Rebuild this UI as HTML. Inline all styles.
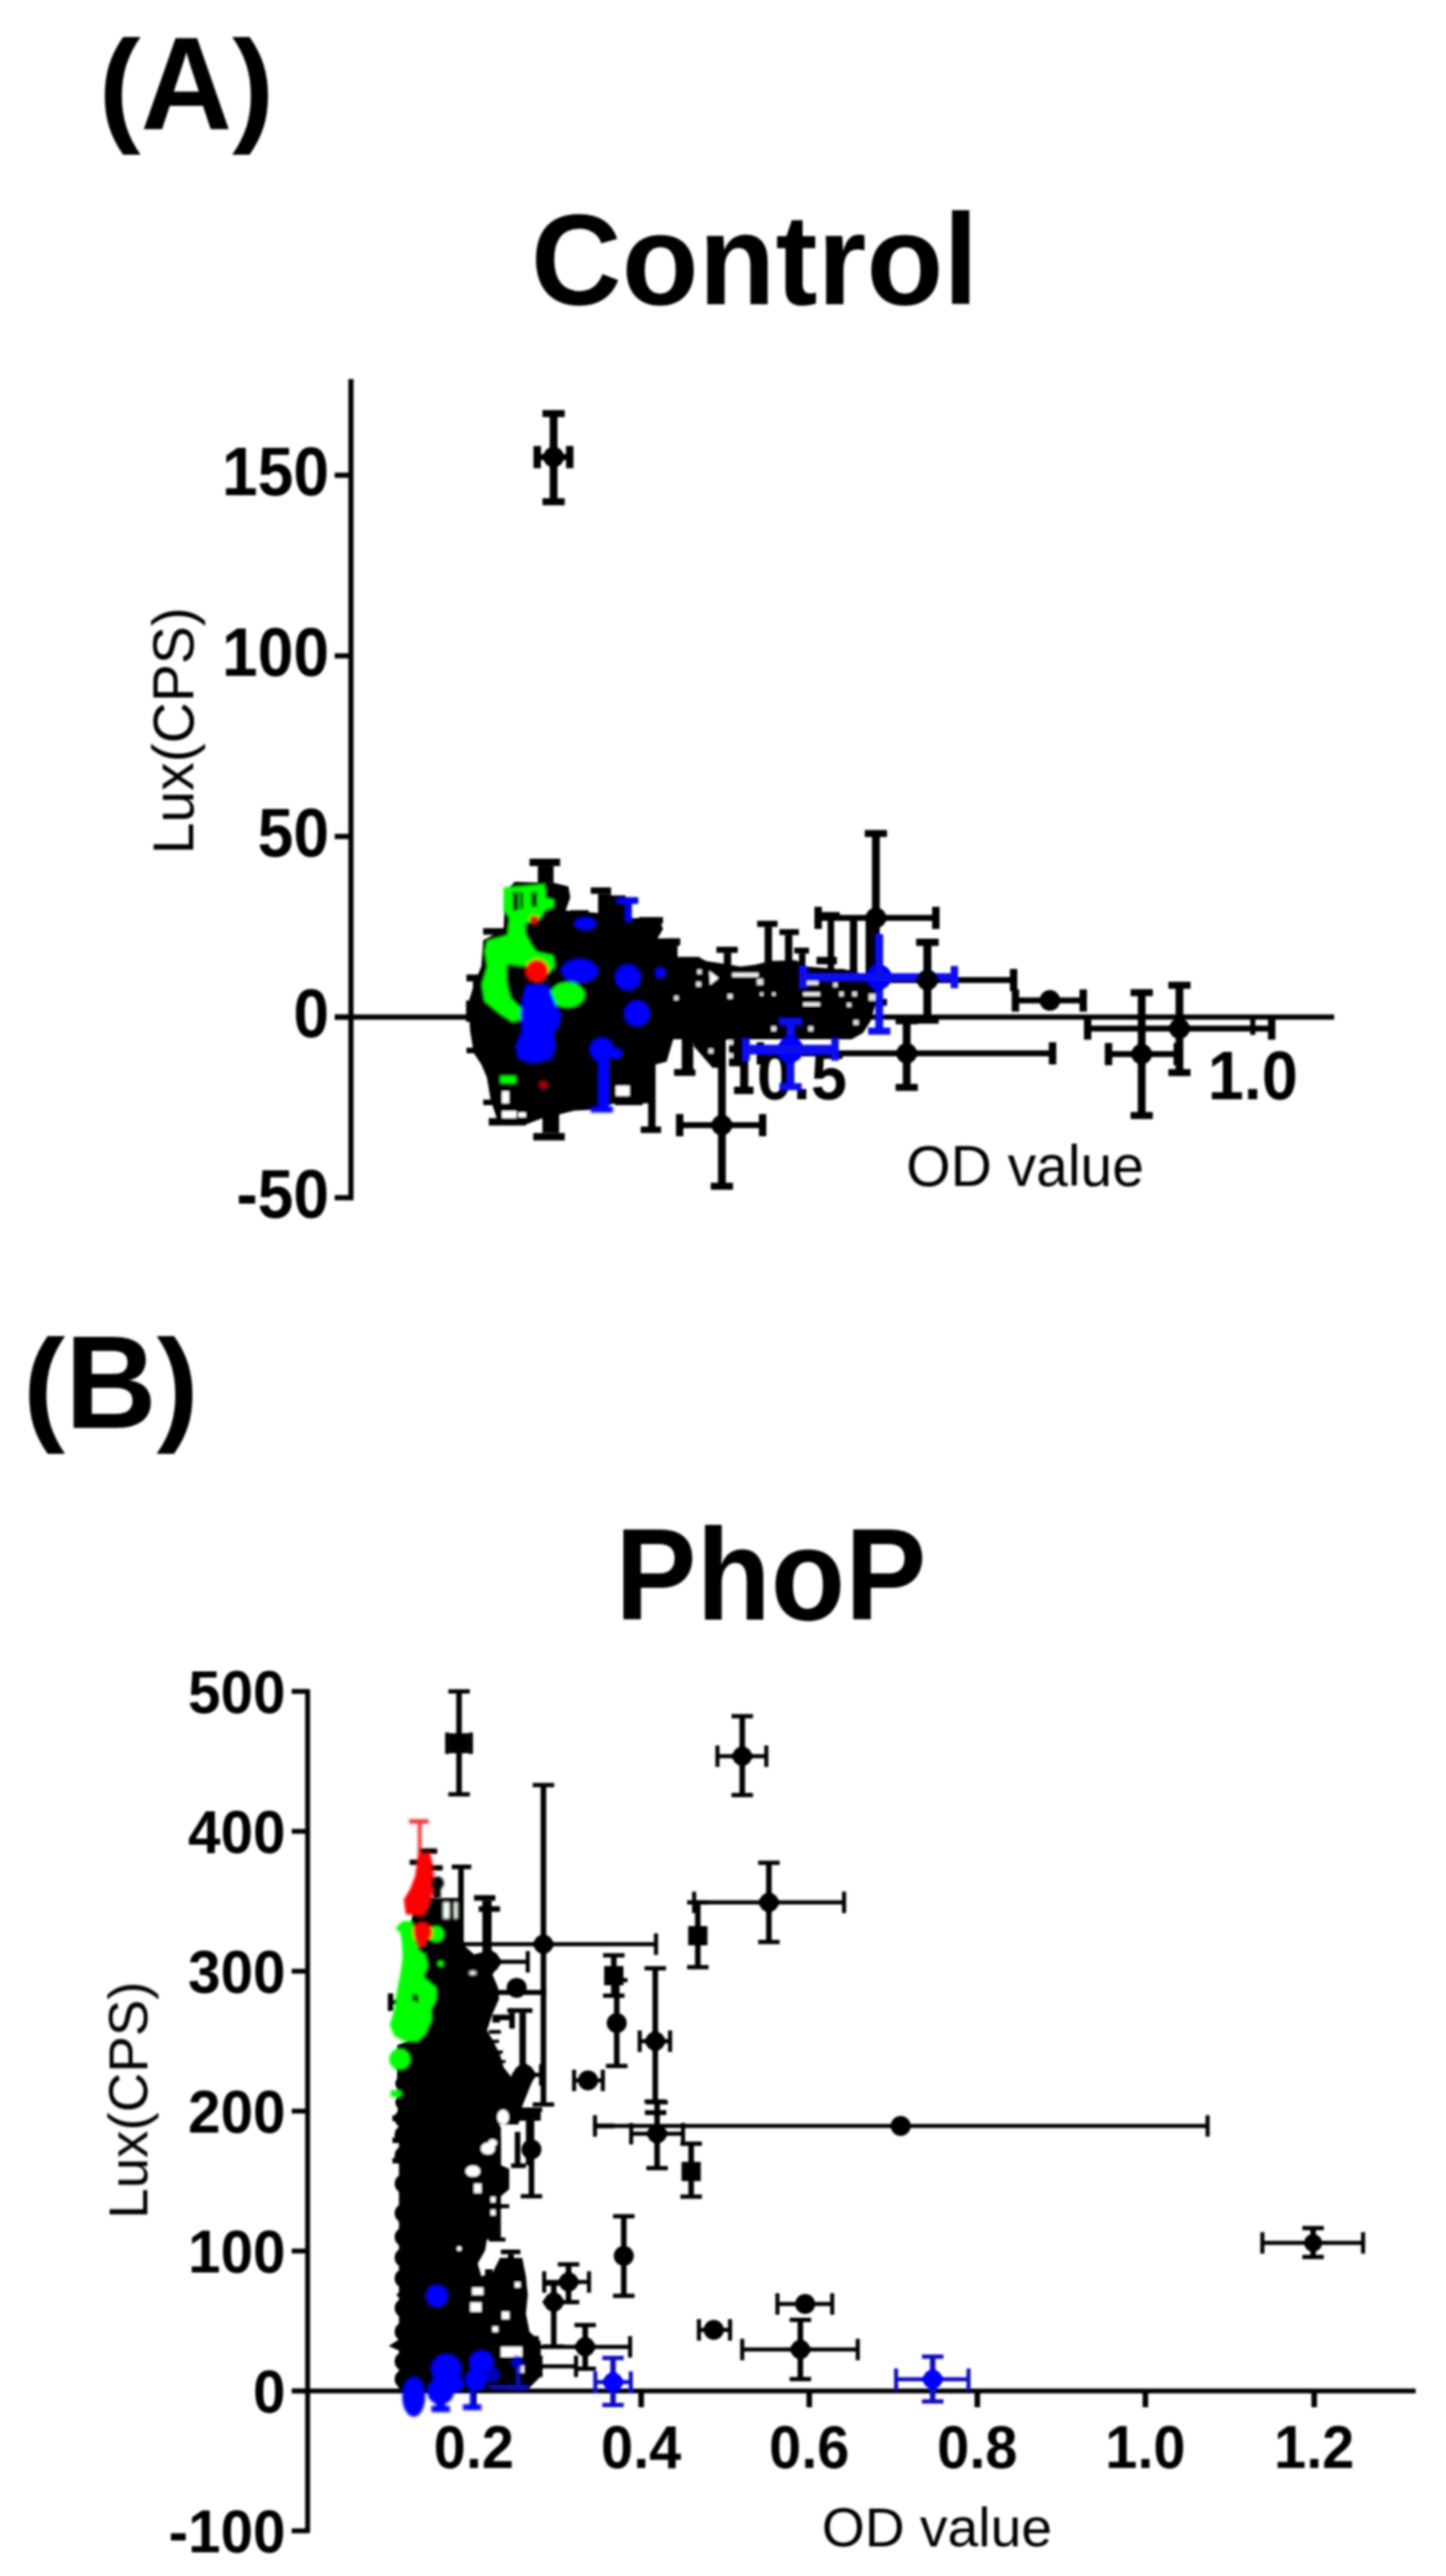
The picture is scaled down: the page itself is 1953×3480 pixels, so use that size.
<!DOCTYPE html>
<html lang="en">
<head>
<meta charset="utf-8">
<title>Control and PhoP Lux(CPS) vs OD value</title>
<style>
html,body{margin:0;padding:0;background:#fff;}
body{width:1953px;height:3480px;overflow:hidden;}
svg{display:block;}
text{font-family:"Liberation Sans",sans-serif;fill:#000;}
</style>
</head>
<body>
<svg width="1953" height="3480" viewBox="0 0 1953 3480">
<defs>
<filter id="bl" x="-2%" y="-2%" width="104%" height="104%"><feGaussianBlur stdDeviation="1.4"/></filter>
<filter id="bc" x="-10%" y="-10%" width="120%" height="120%"><feGaussianBlur stdDeviation="1.8"/></filter>
</defs>
<rect width="1953" height="3480" fill="#fff"/>
<g filter="url(#bl)">
<text transform="translate(133.0 174.0)" font-size="171" font-weight="bold" text-anchor="start">(</text><text transform="translate(189.9 174.0) scale(1 1.045)" font-size="171" font-weight="bold" text-anchor="start">A</text><text transform="translate(313.4 174.0)" font-size="171" font-weight="bold" text-anchor="start">)</text>
<text transform="translate(717.0 411.0) scale(1 1.025)" font-size="170" font-weight="bold" text-anchor="start">Control</text>
<text transform="translate(31.0 1929.0)" font-size="171" font-weight="bold" text-anchor="start">(</text><text transform="translate(87.9 1929.0) scale(1 1.045)" font-size="171" font-weight="bold" text-anchor="start">B</text><text transform="translate(211.4 1929.0)" font-size="171" font-weight="bold" text-anchor="start">)</text>
<text transform="translate(831.0 2188.0) scale(0.967 1.04)" font-size="170" font-weight="bold" text-anchor="start">PhoP</text>
<text transform="translate(444.5 669.5) scale(1.02 1.085)" font-size="85" font-weight="bold" text-anchor="end">150</text>
<text transform="translate(444.5 913.5) scale(1.02 1.085)" font-size="85" font-weight="bold" text-anchor="end">100</text>
<text transform="translate(444.5 1157.5) scale(1.02 1.085)" font-size="85" font-weight="bold" text-anchor="end">50</text>
<text transform="translate(444.5 1401.5) scale(1.02 1.085)" font-size="85" font-weight="bold" text-anchor="end">0</text>
<text transform="translate(444.5 1645.5) scale(1.02 1.085)" font-size="85" font-weight="bold" text-anchor="end">-50</text>
<text transform="translate(1083.0 1485.5) scale(1.03 1.085)" font-size="85" font-weight="bold" text-anchor="middle">0.5</text>
<text transform="translate(1692.0 1485.5) scale(1.03 1.085)" font-size="85" font-weight="bold" text-anchor="middle">1.0</text>
<text transform="translate(1224.0 1602.0)" font-size="77" font-weight="normal" text-anchor="start">OD value</text>
<text transform="translate(261.0 1154.0) rotate(-90)" font-size="77" font-weight="normal" text-anchor="start">Lux(CPS)</text>
<line x1="474.0" y1="512.0" x2="474.0" y2="1621.5" stroke="#000" stroke-width="7"/>
<line x1="452.0" y1="642.0" x2="474.0" y2="642.0" stroke="#000" stroke-width="7"/>
<line x1="452.0" y1="886.0" x2="474.0" y2="886.0" stroke="#000" stroke-width="7"/>
<line x1="452.0" y1="1130.0" x2="474.0" y2="1130.0" stroke="#000" stroke-width="7"/>
<line x1="452.0" y1="1374.0" x2="474.0" y2="1374.0" stroke="#000" stroke-width="7"/>
<line x1="452.0" y1="1618.0" x2="474.0" y2="1618.0" stroke="#000" stroke-width="7"/>
<line x1="452.0" y1="1374.0" x2="1802.0" y2="1374.0" stroke="#000" stroke-width="7"/>
<line x1="1083.0" y1="1374.0" x2="1083.0" y2="1398.0" stroke="#000" stroke-width="7"/>
<line x1="1692.0" y1="1374.0" x2="1692.0" y2="1398.0" stroke="#000" stroke-width="7"/>
<line x1="725.6" y1="617.5" x2="769.5" y2="617.5" stroke="#000" stroke-width="8"/>
<line x1="725.6" y1="602.5" x2="725.6" y2="632.5" stroke="#000" stroke-width="10"/>
<line x1="769.5" y1="602.5" x2="769.5" y2="632.5" stroke="#000" stroke-width="10"/>
<line x1="747.7" y1="558.7" x2="747.7" y2="677.8" stroke="#000" stroke-width="10.5"/>
<line x1="732.7" y1="558.7" x2="762.7" y2="558.7" stroke="#000" stroke-width="9.5"/>
<line x1="732.7" y1="677.8" x2="762.7" y2="677.8" stroke="#000" stroke-width="9.5"/>
<polygon points="731.2,617.5 737.8,607.6 747.7,601.0 757.6,607.6 764.2,617.5 757.6,627.4 747.7,634.0 737.8,627.4" fill="#000"/>
<line x1="1105.0" y1="1240.0" x2="1264.0" y2="1240.0" stroke="#000" stroke-width="8"/>
<line x1="1105.0" y1="1225.0" x2="1105.0" y2="1255.0" stroke="#000" stroke-width="10"/>
<line x1="1264.0" y1="1225.0" x2="1264.0" y2="1255.0" stroke="#000" stroke-width="10"/>
<line x1="1183.0" y1="1126.0" x2="1183.0" y2="1354.0" stroke="#000" stroke-width="10.5"/>
<line x1="1168.0" y1="1126.0" x2="1198.0" y2="1126.0" stroke="#000" stroke-width="9.5"/>
<line x1="1168.0" y1="1354.0" x2="1198.0" y2="1354.0" stroke="#000" stroke-width="9.5"/>
<polygon points="1166.5,1240.0 1173.1,1230.1 1183.0,1223.5 1192.9,1230.1 1199.5,1240.0 1192.9,1249.9 1183.0,1256.5 1173.1,1249.9" fill="#000"/>
<line x1="1136.0" y1="1324.0" x2="1369.0" y2="1324.0" stroke="#000" stroke-width="8"/>
<line x1="1136.0" y1="1309.0" x2="1136.0" y2="1339.0" stroke="#000" stroke-width="10"/>
<line x1="1369.0" y1="1309.0" x2="1369.0" y2="1339.0" stroke="#000" stroke-width="10"/>
<line x1="1252.6" y1="1273.0" x2="1252.6" y2="1378.0" stroke="#000" stroke-width="10.5"/>
<line x1="1237.6" y1="1273.0" x2="1267.6" y2="1273.0" stroke="#000" stroke-width="9.5"/>
<line x1="1237.6" y1="1378.0" x2="1267.6" y2="1378.0" stroke="#000" stroke-width="9.5"/>
<polygon points="1236.1,1324.0 1242.7,1314.1 1252.6,1307.5 1262.5,1314.1 1269.1,1324.0 1262.5,1333.9 1252.6,1340.5 1242.7,1333.9" fill="#000"/>
<line x1="1371.5" y1="1351.6" x2="1463.0" y2="1351.6" stroke="#000" stroke-width="8"/>
<line x1="1371.5" y1="1336.6" x2="1371.5" y2="1366.6" stroke="#000" stroke-width="10"/>
<line x1="1463.0" y1="1336.6" x2="1463.0" y2="1366.6" stroke="#000" stroke-width="10"/>
<circle cx="1418.0" cy="1351.6" r="14.0" fill="#000"/>
<line x1="1027.0" y1="1423.0" x2="1421.6" y2="1423.0" stroke="#000" stroke-width="8"/>
<line x1="1027.0" y1="1408.0" x2="1027.0" y2="1438.0" stroke="#000" stroke-width="10"/>
<line x1="1421.6" y1="1408.0" x2="1421.6" y2="1438.0" stroke="#000" stroke-width="10"/>
<line x1="1224.6" y1="1379.0" x2="1224.6" y2="1469.0" stroke="#000" stroke-width="10.5"/>
<line x1="1209.6" y1="1379.0" x2="1239.6" y2="1379.0" stroke="#000" stroke-width="9.5"/>
<line x1="1209.6" y1="1469.0" x2="1239.6" y2="1469.0" stroke="#000" stroke-width="9.5"/>
<polygon points="1208.1,1423.0 1214.7,1413.1 1224.6,1406.5 1234.5,1413.1 1241.1,1423.0 1234.5,1432.9 1224.6,1439.5 1214.7,1432.9" fill="#000"/>
<line x1="1497.2" y1="1424.0" x2="1590.0" y2="1424.0" stroke="#000" stroke-width="8"/>
<line x1="1497.2" y1="1409.0" x2="1497.2" y2="1439.0" stroke="#000" stroke-width="10"/>
<line x1="1590.0" y1="1409.0" x2="1590.0" y2="1439.0" stroke="#000" stroke-width="10"/>
<line x1="1542.0" y1="1341.0" x2="1542.0" y2="1507.0" stroke="#000" stroke-width="10.5"/>
<line x1="1527.0" y1="1341.0" x2="1557.0" y2="1341.0" stroke="#000" stroke-width="9.5"/>
<line x1="1527.0" y1="1507.0" x2="1557.0" y2="1507.0" stroke="#000" stroke-width="9.5"/>
<polygon points="1525.5,1424.0 1532.1,1414.1 1542.0,1407.5 1551.9,1414.1 1558.5,1424.0 1551.9,1433.9 1542.0,1440.5 1532.1,1433.9" fill="#000"/>
<line x1="1469.0" y1="1389.5" x2="1717.5" y2="1389.5" stroke="#000" stroke-width="8"/>
<line x1="1469.0" y1="1374.5" x2="1469.0" y2="1404.5" stroke="#000" stroke-width="10"/>
<line x1="1717.5" y1="1374.5" x2="1717.5" y2="1404.5" stroke="#000" stroke-width="10"/>
<line x1="1593.0" y1="1331.0" x2="1593.0" y2="1449.0" stroke="#000" stroke-width="10.5"/>
<line x1="1578.0" y1="1331.0" x2="1608.0" y2="1331.0" stroke="#000" stroke-width="9.5"/>
<line x1="1578.0" y1="1449.0" x2="1608.0" y2="1449.0" stroke="#000" stroke-width="9.5"/>
<polygon points="1576.5,1389.5 1583.1,1379.6 1593.0,1373.0 1602.9,1379.6 1609.5,1389.5 1602.9,1399.4 1593.0,1406.0 1583.1,1399.4" fill="#000"/>
<line x1="918.0" y1="1520.0" x2="1030.0" y2="1520.0" stroke="#000" stroke-width="8"/>
<line x1="918.0" y1="1505.0" x2="918.0" y2="1535.0" stroke="#000" stroke-width="10"/>
<line x1="1030.0" y1="1505.0" x2="1030.0" y2="1535.0" stroke="#000" stroke-width="10"/>
<line x1="975.0" y1="1400.0" x2="975.0" y2="1602.5" stroke="#000" stroke-width="10.5"/>
<line x1="960.0" y1="1400.0" x2="990.0" y2="1400.0" stroke="#000" stroke-width="9.5"/>
<line x1="960.0" y1="1602.5" x2="990.0" y2="1602.5" stroke="#000" stroke-width="9.5"/>
<polygon points="958.5,1520.0 965.1,1510.1 975.0,1503.5 984.9,1510.1 991.5,1520.0 984.9,1529.9 975.0,1536.5 965.1,1529.9" fill="#000"/>
<polygon points="632.5,1355.3 640.1,1330.3 650.1,1305.2 652.6,1270.2 680.1,1255.2 682.6,1205.1 695.1,1191.3 747.7,1192.6 767.7,1197.6 770.2,1212.6 764.0,1230.1 797.8,1232.6 825.3,1235.1 852.8,1240.2 890.4,1240.2 895.4,1255.2 887.9,1267.7 910.4,1280.2 910.4,1292.7 945.5,1294.0 962.0,1302.7 962.0,1404.1 909.2,1404.1 900.4,1434.2 885.4,1437.9 875.4,1490.5 830.3,1490.5 797.8,1499.3 775.2,1500.5 755.2,1505.5 732.7,1510.5 710.2,1519.3 672.6,1515.5 662.6,1485.5 657.6,1455.4 650.1,1437.9 640.1,1422.9 635.0,1392.9" fill="#000"/>
<rect x="630.0" y="1316.5" width="27.5" height="9.3" fill="#000"/>
<rect x="638.8" y="1325.8" width="10.0" height="29.5" fill="#000"/>
<rect x="652.6" y="1253.9" width="27.5" height="8.8" fill="#000"/>
<rect x="715.2" y="1160.0" width="41.3" height="10.0" fill="#000"/>
<rect x="726.4" y="1170.1" width="21.3" height="22.5" fill="#000"/>
<rect x="797.8" y="1198.8" width="27.5" height="8.8" fill="#000"/>
<rect x="807.8" y="1207.6" width="17.5" height="27.5" fill="#000"/>
<rect x="770.2" y="1229.6" width="25.0" height="8.0" fill="#000"/>
<rect x="862.9" y="1238.9" width="32.5" height="8.8" fill="#000"/>
<rect x="887.9" y="1267.7" width="30.0" height="10.0" fill="#000"/>
<rect x="901.7" y="1277.7" width="8.8" height="37.6" fill="#000"/>
<rect x="912.9" y="1292.7" width="32.5" height="10.0" fill="#000"/>
<rect x="910.4" y="1444.2" width="27.5" height="8.8" fill="#000"/>
<rect x="922.9" y="1405.4" width="7.5" height="40.1" fill="#000"/>
<rect x="865.4" y="1521.8" width="27.5" height="8.8" fill="#000"/>
<rect x="875.4" y="1430.4" width="10.0" height="92.6" fill="#000"/>
<rect x="830.3" y="1485.5" width="37.6" height="7.5" fill="#000"/>
<rect x="720.2" y="1530.6" width="42.6" height="10.0" fill="#000"/>
<rect x="732.7" y="1500.5" width="22.5" height="30.0" fill="#000"/>
<rect x="660.1" y="1510.5" width="50.1" height="10.0" fill="#000"/>
<rect x="652.6" y="1485.5" width="30.0" height="7.5" fill="#000"/>
<rect x="672.6" y="1493.0" width="10.0" height="17.5" fill="#000"/>
<rect x="630.0" y="1415.4" width="10.0" height="7.5" fill="#000"/>
<rect x="629.5" y="1351.6" width="10.5" height="28.8" fill="#000"/>
<rect x="832.8" y="1212.6" width="28.8" height="8.0" fill="#000"/>
<rect x="844.1" y="1220.6" width="8.8" height="22.0" fill="#000"/>
<rect x="824.1" y="1209.6" width="20.8" height="33.0" fill="#000"/>
<rect x="831.6" y="1466.7" width="18.8" height="13.8" fill="#fff"/>
<rect x="678.1" y="1474.2" width="9.5" height="16.3" fill="#fff"/>
<rect x="678.1" y="1501.0" width="19.5" height="9.5" fill="#fff"/>
<rect x="700.1" y="1503.0" width="10.0" height="6.3" fill="#fff"/>
<polygon points="900.0,1295.7 915.0,1297.2 945.1,1297.2 970.1,1300.7 1000.1,1305.7 1020.2,1303.2 1040.2,1298.2 1075.2,1297.2 1090.3,1305.7 1150.3,1310.7 1175.4,1320.8 1182.9,1355.3 1175.4,1380.3 1165.4,1395.4 1150.3,1404.1 900.0,1404.1" fill="#000"/>
<polygon points="935.3,1403.1 970.6,1403.1 970.6,1442.4 962.3,1442.4 937.3,1413.4" fill="#000"/>
<rect x="900.0" y="1267.7" width="18.8" height="8.8" fill="#000"/>
<rect x="906.3" y="1276.5" width="8.8" height="18.8" fill="#000"/>
<rect x="967.6" y="1279.0" width="28.8" height="8.3" fill="#000"/>
<rect x="977.6" y="1287.2" width="10.0" height="18.0" fill="#000"/>
<rect x="1022.7" y="1243.9" width="27.5" height="8.3" fill="#000"/>
<rect x="1032.7" y="1252.2" width="10.0" height="53.1" fill="#000"/>
<rect x="1052.7" y="1255.2" width="26.3" height="8.0" fill="#000"/>
<rect x="1060.2" y="1263.2" width="10.0" height="42.1" fill="#000"/>
<rect x="1072.7" y="1280.2" width="20.0" height="8.0" fill="#000"/>
<rect x="1079.0" y="1288.2" width="8.8" height="17.0" fill="#000"/>
<rect x="1105.3" y="1232.1" width="28.8" height="8.0" fill="#000"/>
<rect x="1117.8" y="1240.2" width="8.8" height="70.1" fill="#000"/>
<rect x="1102.8" y="1292.7" width="27.5" height="10.0" fill="#000"/>
<rect x="1147.8" y="1240.2" width="10.0" height="80.1" fill="#000"/>
<rect x="1169.1" y="1240.2" width="8.8" height="80.1" fill="#000"/>
<rect x="911.3" y="1444.9" width="28.0" height="8.5" fill="#000"/>
<rect x="920.8" y="1402.9" width="15.5" height="43.1" fill="#000"/>
<rect x="991.4" y="1468.0" width="26.3" height="10.0" fill="#000"/>
<rect x="999.6" y="1402.9" width="11.0" height="65.1" fill="#000"/>
<rect x="984.6" y="1402.9" width="15.5" height="37.6" fill="#000"/>
<rect x="941.8" y="1310.0" width="5.8" height="5.8" fill="#e4e4e4"/>
<rect x="940.3" y="1326.3" width="6.5" height="6.5" fill="#e4e4e4"/>
<rect x="910.5" y="1345.3" width="5.8" height="5.8" fill="#e4e4e4"/>
<rect x="982.9" y="1342.8" width="6.5" height="6.5" fill="#e4e4e4"/>
<rect x="1022.4" y="1322.3" width="8.3" height="8.3" fill="#e4e4e4"/>
<rect x="1026.7" y="1340.8" width="4.0" height="4.3" fill="#e4e4e4"/>
<rect x="1043.2" y="1340.8" width="4.0" height="4.3" fill="#e4e4e4"/>
<rect x="1133.6" y="1340.0" width="5.8" height="5.8" fill="#e4e4e4"/>
<rect x="1151.3" y="1340.0" width="5.8" height="5.8" fill="#e4e4e4"/>
<rect x="1144.1" y="1354.8" width="5.5" height="5.5" fill="#e4e4e4"/>
<rect x="1173.4" y="1342.5" width="9.3" height="9.3" fill="#e4e4e4"/>
<rect x="1152.8" y="1378.1" width="6.8" height="6.5" fill="#e4e4e4"/>
<rect x="1041.9" y="1386.4" width="6.5" height="6.5" fill="#e4e4e4"/>
<rect x="1091.8" y="1386.4" width="6.5" height="6.5" fill="#e4e4e4"/>
<rect x="1125.3" y="1327.5" width="5.8" height="6.0" fill="#e4e4e4"/>
<rect x="984.1" y="1405.1" width="6.0" height="6.3" fill="#e4e4e4"/>
<rect x="957.1" y="1416.6" width="6.3" height="6.3" fill="#e4e4e4"/>
<rect x="984.1" y="1422.9" width="6.0" height="6.3" fill="#e4e4e4"/>
<polygon points="958.1,1311.7 970.6,1321.3 959.1,1330.5" fill="#fff"/>
<rect x="989.1" y="1314.3" width="35.3" height="5.5" fill="#f0f0f0"/>
<rect x="1085.0" y="1340.5" width="22.5" height="5.0" fill="#f0f0f0"/>
<rect x="1085.0" y="1354.3" width="22.5" height="4.8" fill="#f0f0f0"/>
<rect x="1089.8" y="1324.8" width="15.5" height="5.8" fill="#e8e8ff"/>
<g filter="url(#bc)">
<polygon points="680.1,1198.8 736.4,1193.8 737.7,1212.6 749.0,1215.1 747.7,1226.4 736.4,1230.1 730.2,1241.4 710.2,1247.7 710.2,1260.2 717.7,1275.2 725.2,1285.2 747.7,1290.2 750.2,1305.2 740.2,1316.5 710.2,1305.2 685.1,1302.7 685.1,1327.8 690.1,1347.8 705.1,1362.8 706.4,1376.6 692.6,1381.6 675.1,1370.3 653.8,1352.8 650.1,1330.3 657.6,1305.2 653.8,1285.2 657.6,1270.2 685.1,1262.7 687.6,1240.2 680.1,1230.1" fill="#00ff00"/>
<ellipse cx="766.5" cy="1344.0" rx="23.8" ry="17.5" fill="#00ff00"/>
<rect x="675.1" y="1452.9" width="22.5" height="11.3" fill="#00ff00"/>
<rect x="692.6" y="1205.1" width="7.5" height="25.0" fill="#000"/>
<rect x="702.6" y="1205.1" width="3.8" height="22.5" fill="#000"/>
<rect x="717.7" y="1205.1" width="7.5" height="20.0" fill="#000"/>
<rect x="683.9" y="1305.2" width="23.8" height="22.5" fill="#000"/>
<polygon points="710.2,1330.3 740.2,1330.3 750.2,1355.3 757.7,1370.3 755.2,1385.4 747.7,1395.4 750.2,1412.9 745.2,1430.4 720.2,1436.7 700.1,1430.4 696.4,1412.9 705.1,1392.9 702.6,1370.3 705.1,1350.3" fill="#0000ff"/>
<ellipse cx="782.8" cy="1311.5" rx="25.0" ry="16.3" fill="#0000ff"/>
<ellipse cx="790.3" cy="1247.7" rx="15.0" ry="8.8" fill="#0000ff"/>
<circle cx="847.8" cy="1320.3" r="17.5" fill="#0000ff"/>
<circle cx="860.4" cy="1369.1" r="17.5" fill="#0000ff"/>
<circle cx="891.7" cy="1314.0" r="7.5" fill="#0000ff"/>
<circle cx="812.8" cy="1417.9" r="16.3" fill="#0000ff"/>
<circle cx="832.8" cy="1422.9" r="7.5" fill="#0000ff"/>
<rect x="807.8" y="1417.9" width="15.0" height="82.6" fill="#0000ff"/>
<rect x="797.8" y="1495.0" width="30.0" height="8.0" fill="#0000ff"/>
<rect x="832.8" y="1212.6" width="28.8" height="8.0" fill="#0000ff"/>
<rect x="844.1" y="1220.6" width="8.8" height="24.5" fill="#0000ff"/>
<circle cx="725.2" cy="1311.5" r="15.5" fill="#ff0000"/>
<circle cx="721.4" cy="1242.7" r="6.3" fill="#e01000"/>
<circle cx="733.9" cy="1465.5" r="6.3" fill="#a00000"/>
</g>
<line x1="1085.0" y1="1320.0" x2="1289.0" y2="1320.0" stroke="#0808f0" stroke-width="8"/>
<line x1="1085.0" y1="1305.0" x2="1085.0" y2="1335.0" stroke="#0808f0" stroke-width="10"/>
<line x1="1289.0" y1="1305.0" x2="1289.0" y2="1335.0" stroke="#0808f0" stroke-width="10"/>
<line x1="1187.5" y1="1320.0" x2="1187.5" y2="1393.0" stroke="#0808f0" stroke-width="10.5"/>
<line x1="1172.5" y1="1393.0" x2="1202.5" y2="1393.0" stroke="#0808f0" stroke-width="9.5"/>
<polygon points="1167.5,1320.0 1175.5,1308.0 1187.5,1300.0 1199.5,1308.0 1207.5,1320.0 1199.5,1332.0 1187.5,1340.0 1175.5,1332.0" fill="#0000ff"/>
<line x1="1187.5" y1="1262.0" x2="1187.5" y2="1320.0" stroke="#0808f0" stroke-width="10.5"/>
<line x1="1085.0" y1="1320.0" x2="1289.0" y2="1320.0" stroke="#0808f0" stroke-width="10.5"/>
<line x1="1007.6" y1="1418.0" x2="1127.8" y2="1418.0" stroke="#0808f0" stroke-width="8"/>
<line x1="1007.6" y1="1403.0" x2="1007.6" y2="1433.0" stroke="#0808f0" stroke-width="10"/>
<line x1="1127.8" y1="1403.0" x2="1127.8" y2="1433.0" stroke="#0808f0" stroke-width="10"/>
<line x1="1067.7" y1="1380.0" x2="1067.7" y2="1468.0" stroke="#0808f0" stroke-width="10.5"/>
<line x1="1052.7" y1="1380.0" x2="1082.7" y2="1380.0" stroke="#0808f0" stroke-width="9.5"/>
<line x1="1052.7" y1="1468.0" x2="1082.7" y2="1468.0" stroke="#0808f0" stroke-width="9.5"/>
<polygon points="1046.7,1418.0 1055.1,1405.4 1067.7,1397.0 1080.3,1405.4 1088.7,1418.0 1080.3,1430.6 1067.7,1439.0 1055.1,1430.6" fill="#0000ff"/>
<line x1="1007.6" y1="1418.0" x2="1127.8" y2="1418.0" stroke="#0808f0" stroke-width="13"/>
<line x1="1252.6" y1="1273.0" x2="1252.6" y2="1378.0" stroke="#000" stroke-width="10.5"/>
<line x1="1237.6" y1="1273.0" x2="1267.6" y2="1273.0" stroke="#000" stroke-width="9.5"/>
<line x1="1237.6" y1="1378.0" x2="1267.6" y2="1378.0" stroke="#000" stroke-width="9.5"/>
<polygon points="1236.1,1324.0 1242.7,1314.1 1252.6,1307.5 1262.5,1314.1 1269.1,1324.0 1262.5,1333.9 1252.6,1340.5 1242.7,1333.9" fill="#000"/>
<polygon points="1167.0,1240.0 1173.4,1230.4 1183.0,1224.0 1192.6,1230.4 1199.0,1240.0 1192.6,1249.6 1183.0,1256.0 1173.4,1249.6" fill="#000"/>
<text transform="translate(385.5 2313.5) scale(1.01 1.04)" font-size="78" font-weight="bold" text-anchor="end">500</text>
<text transform="translate(385.5 2502.5) scale(1.01 1.04)" font-size="78" font-weight="bold" text-anchor="end">400</text>
<text transform="translate(385.5 2691.5) scale(1.01 1.04)" font-size="78" font-weight="bold" text-anchor="end">300</text>
<text transform="translate(385.5 2880.5) scale(1.01 1.04)" font-size="78" font-weight="bold" text-anchor="end">200</text>
<text transform="translate(385.5 3069.5) scale(1.01 1.04)" font-size="78" font-weight="bold" text-anchor="end">100</text>
<text transform="translate(385.5 3258.5) scale(1.01 1.04)" font-size="78" font-weight="bold" text-anchor="end">0</text>
<text transform="translate(385.5 3447.5) scale(1.01 1.04)" font-size="78" font-weight="bold" text-anchor="end">-100</text>
<text transform="translate(640.0 3334.0) scale(1.0 1.04)" font-size="78" font-weight="bold" text-anchor="middle">0.2</text>
<line x1="640.0" y1="3230.0" x2="640.0" y2="3252.0" stroke="#000" stroke-width="7.5"/>
<text transform="translate(866.0 3334.0) scale(1.0 1.04)" font-size="78" font-weight="bold" text-anchor="middle">0.4</text>
<line x1="866.0" y1="3230.0" x2="866.0" y2="3252.0" stroke="#000" stroke-width="7.5"/>
<text transform="translate(1093.0 3334.0) scale(1.0 1.04)" font-size="78" font-weight="bold" text-anchor="middle">0.6</text>
<line x1="1093.0" y1="3230.0" x2="1093.0" y2="3252.0" stroke="#000" stroke-width="7.5"/>
<text transform="translate(1320.0 3334.0) scale(1.0 1.04)" font-size="78" font-weight="bold" text-anchor="middle">0.8</text>
<line x1="1320.0" y1="3230.0" x2="1320.0" y2="3252.0" stroke="#000" stroke-width="7.5"/>
<text transform="translate(1547.0 3334.0) scale(1.0 1.04)" font-size="78" font-weight="bold" text-anchor="middle">1.0</text>
<line x1="1547.0" y1="3230.0" x2="1547.0" y2="3252.0" stroke="#000" stroke-width="7.5"/>
<text transform="translate(1775.0 3334.0) scale(1.0 1.04)" font-size="78" font-weight="bold" text-anchor="middle">1.2</text>
<line x1="1775.0" y1="3230.0" x2="1775.0" y2="3252.0" stroke="#000" stroke-width="7.5"/>
<text transform="translate(1110.0 3440.0) scale(1.008 1)" font-size="74" font-weight="normal" text-anchor="start">OD value</text>
<text transform="translate(199.0 2997.5) rotate(-90)" font-size="74" font-weight="normal" text-anchor="start">Lux(CPS)</text>
<line x1="415.5" y1="2282.0" x2="415.5" y2="3422.0" stroke="#000" stroke-width="6.6"/>
<line x1="394.0" y1="2285.0" x2="415.5" y2="2285.0" stroke="#000" stroke-width="6.6"/>
<line x1="394.0" y1="2474.0" x2="415.5" y2="2474.0" stroke="#000" stroke-width="6.6"/>
<line x1="394.0" y1="2663.0" x2="415.5" y2="2663.0" stroke="#000" stroke-width="6.6"/>
<line x1="394.0" y1="2852.0" x2="415.5" y2="2852.0" stroke="#000" stroke-width="6.6"/>
<line x1="394.0" y1="3041.0" x2="415.5" y2="3041.0" stroke="#000" stroke-width="6.6"/>
<line x1="394.0" y1="3230.0" x2="415.5" y2="3230.0" stroke="#000" stroke-width="6.6"/>
<line x1="394.0" y1="3419.0" x2="415.5" y2="3419.0" stroke="#000" stroke-width="6.6"/>
<line x1="394.0" y1="3230.0" x2="1912.0" y2="3230.0" stroke="#000" stroke-width="6.6"/>
<line x1="604.0" y1="2355.0" x2="636.0" y2="2355.0" stroke="#000" stroke-width="5.5"/>
<line x1="604.0" y1="2340.5" x2="604.0" y2="2369.5" stroke="#000" stroke-width="5.5"/>
<line x1="636.0" y1="2340.5" x2="636.0" y2="2369.5" stroke="#000" stroke-width="5.5"/>
<line x1="620.0" y1="2285.0" x2="620.0" y2="2424.0" stroke="#000" stroke-width="7.5"/>
<line x1="605.5" y1="2285.0" x2="634.5" y2="2285.0" stroke="#000" stroke-width="5.8"/>
<line x1="605.5" y1="2424.0" x2="634.5" y2="2424.0" stroke="#000" stroke-width="5.8"/>
<rect x="606.5" y="2341.5" width="27.0" height="27.0" fill="#000"/>
<line x1="580.0" y1="2626.5" x2="886.0" y2="2626.5" stroke="#000" stroke-width="5.5"/>
<line x1="580.0" y1="2612.0" x2="580.0" y2="2641.0" stroke="#000" stroke-width="5.5"/>
<line x1="886.0" y1="2612.0" x2="886.0" y2="2641.0" stroke="#000" stroke-width="5.5"/>
<line x1="734.0" y1="2411.5" x2="734.0" y2="2843.0" stroke="#000" stroke-width="7.5"/>
<line x1="719.5" y1="2411.5" x2="748.5" y2="2411.5" stroke="#000" stroke-width="5.8"/>
<line x1="719.5" y1="2843.0" x2="748.5" y2="2843.0" stroke="#000" stroke-width="5.8"/>
<polygon points="718.5,2626.5 724.7,2617.2 734.0,2611.0 743.3,2617.2 749.5,2626.5 743.3,2635.8 734.0,2642.0 724.7,2635.8" fill="#000"/>
<line x1="969.0" y1="2372.5" x2="1035.0" y2="2372.5" stroke="#000" stroke-width="5.5"/>
<line x1="969.0" y1="2358.0" x2="969.0" y2="2387.0" stroke="#000" stroke-width="5.5"/>
<line x1="1035.0" y1="2358.0" x2="1035.0" y2="2387.0" stroke="#000" stroke-width="5.5"/>
<line x1="1002.5" y1="2318.5" x2="1002.5" y2="2425.0" stroke="#000" stroke-width="7.5"/>
<line x1="988.0" y1="2318.5" x2="1017.0" y2="2318.5" stroke="#000" stroke-width="5.8"/>
<line x1="988.0" y1="2425.0" x2="1017.0" y2="2425.0" stroke="#000" stroke-width="5.8"/>
<polygon points="987.0,2372.5 993.2,2363.2 1002.5,2357.0 1011.8,2363.2 1018.0,2372.5 1011.8,2381.8 1002.5,2388.0 993.2,2381.8" fill="#000"/>
<line x1="937.5" y1="2570.0" x2="1140.0" y2="2570.0" stroke="#000" stroke-width="5.5"/>
<line x1="937.5" y1="2555.5" x2="937.5" y2="2584.5" stroke="#000" stroke-width="5.5"/>
<line x1="1140.0" y1="2555.5" x2="1140.0" y2="2584.5" stroke="#000" stroke-width="5.5"/>
<line x1="1038.5" y1="2516.5" x2="1038.5" y2="2623.5" stroke="#000" stroke-width="7.5"/>
<line x1="1024.0" y1="2516.5" x2="1053.0" y2="2516.5" stroke="#000" stroke-width="5.8"/>
<line x1="1024.0" y1="2623.5" x2="1053.0" y2="2623.5" stroke="#000" stroke-width="5.8"/>
<polygon points="1023.0,2570.0 1029.2,2560.7 1038.5,2554.5 1047.8,2560.7 1054.0,2570.0 1047.8,2579.3 1038.5,2585.5 1029.2,2579.3" fill="#000"/>
<line x1="942.5" y1="2570.0" x2="942.5" y2="2657.5" stroke="#000" stroke-width="7.5"/>
<line x1="928.0" y1="2570.0" x2="957.0" y2="2570.0" stroke="#000" stroke-width="5.8"/>
<line x1="928.0" y1="2657.5" x2="957.0" y2="2657.5" stroke="#000" stroke-width="5.8"/>
<rect x="929.5" y="2602.0" width="26.0" height="26.0" fill="#000"/>
<line x1="864.0" y1="2757.5" x2="905.0" y2="2757.5" stroke="#000" stroke-width="5.5"/>
<line x1="864.0" y1="2743.0" x2="864.0" y2="2772.0" stroke="#000" stroke-width="5.5"/>
<line x1="905.0" y1="2743.0" x2="905.0" y2="2772.0" stroke="#000" stroke-width="5.5"/>
<line x1="885.0" y1="2659.0" x2="885.0" y2="2839.0" stroke="#000" stroke-width="7.5"/>
<line x1="870.5" y1="2659.0" x2="899.5" y2="2659.0" stroke="#000" stroke-width="5.8"/>
<line x1="870.5" y1="2839.0" x2="899.5" y2="2839.0" stroke="#000" stroke-width="5.8"/>
<polygon points="869.5,2757.5 875.7,2748.2 885.0,2742.0 894.3,2748.2 900.5,2757.5 894.3,2766.8 885.0,2773.0 875.7,2766.8" fill="#000"/>
<line x1="829.0" y1="2641.5" x2="829.0" y2="2696.0" stroke="#000" stroke-width="7.5"/>
<line x1="814.5" y1="2641.5" x2="843.5" y2="2641.5" stroke="#000" stroke-width="5.8"/>
<line x1="814.5" y1="2696.0" x2="843.5" y2="2696.0" stroke="#000" stroke-width="5.8"/>
<rect x="816.0" y="2656.0" width="26.0" height="26.0" fill="#000"/>
<line x1="833.0" y1="2675.0" x2="833.0" y2="2791.0" stroke="#000" stroke-width="7.5"/>
<line x1="818.5" y1="2675.0" x2="847.5" y2="2675.0" stroke="#000" stroke-width="5.8"/>
<line x1="818.5" y1="2791.0" x2="847.5" y2="2791.0" stroke="#000" stroke-width="5.8"/>
<circle cx="833.0" cy="2733.0" r="13.5" fill="#000"/>
<line x1="775.4" y1="2810.5" x2="814.2" y2="2810.5" stroke="#000" stroke-width="5.5"/>
<line x1="775.4" y1="2796.0" x2="775.4" y2="2825.0" stroke="#000" stroke-width="5.5"/>
<line x1="814.2" y1="2796.0" x2="814.2" y2="2825.0" stroke="#000" stroke-width="5.5"/>
<circle cx="794.2" cy="2810.5" r="13.5" fill="#000"/>
<line x1="803.6" y1="2872.0" x2="1631.0" y2="2872.0" stroke="#000" stroke-width="5.5"/>
<line x1="803.6" y1="2857.5" x2="803.6" y2="2886.5" stroke="#000" stroke-width="5.5"/>
<line x1="1631.0" y1="2857.5" x2="1631.0" y2="2886.5" stroke="#000" stroke-width="5.5"/>
<circle cx="1216.5" cy="2872.0" r="13.5" fill="#000"/>
<line x1="852.5" y1="2882.5" x2="922.5" y2="2882.5" stroke="#000" stroke-width="5.5"/>
<line x1="852.5" y1="2868.0" x2="852.5" y2="2897.0" stroke="#000" stroke-width="5.5"/>
<line x1="922.5" y1="2868.0" x2="922.5" y2="2897.0" stroke="#000" stroke-width="5.5"/>
<line x1="887.5" y1="2840.0" x2="887.5" y2="2929.0" stroke="#000" stroke-width="7.5"/>
<line x1="873.0" y1="2840.0" x2="902.0" y2="2840.0" stroke="#000" stroke-width="5.8"/>
<line x1="873.0" y1="2929.0" x2="902.0" y2="2929.0" stroke="#000" stroke-width="5.8"/>
<polygon points="872.0,2882.5 878.2,2873.2 887.5,2867.0 896.8,2873.2 903.0,2882.5 896.8,2891.8 887.5,2898.0 878.2,2891.8" fill="#000"/>
<line x1="871.0" y1="2854.0" x2="900.0" y2="2854.0" stroke="#000" stroke-width="6.6"/>
<line x1="933.5" y1="2896.0" x2="933.5" y2="2967.5" stroke="#000" stroke-width="7.5"/>
<line x1="919.0" y1="2896.0" x2="948.0" y2="2896.0" stroke="#000" stroke-width="5.8"/>
<line x1="919.0" y1="2967.5" x2="948.0" y2="2967.5" stroke="#000" stroke-width="5.8"/>
<rect x="920.5" y="2920.5" width="26.0" height="26.0" fill="#000"/>
<line x1="842.5" y1="2994.0" x2="842.5" y2="3101.5" stroke="#000" stroke-width="7.5"/>
<line x1="828.0" y1="2994.0" x2="857.0" y2="2994.0" stroke="#000" stroke-width="5.8"/>
<line x1="828.0" y1="3101.5" x2="857.0" y2="3101.5" stroke="#000" stroke-width="5.8"/>
<circle cx="842.5" cy="3047.5" r="13.5" fill="#000"/>
<line x1="1050.0" y1="3112.5" x2="1124.0" y2="3112.5" stroke="#000" stroke-width="5.5"/>
<line x1="1050.0" y1="3098.0" x2="1050.0" y2="3127.0" stroke="#000" stroke-width="5.5"/>
<line x1="1124.0" y1="3098.0" x2="1124.0" y2="3127.0" stroke="#000" stroke-width="5.5"/>
<circle cx="1087.5" cy="3112.5" r="13.5" fill="#000"/>
<line x1="944.0" y1="3147.5" x2="986.0" y2="3147.5" stroke="#000" stroke-width="5.5"/>
<line x1="944.0" y1="3133.0" x2="944.0" y2="3162.0" stroke="#000" stroke-width="5.5"/>
<line x1="986.0" y1="3133.0" x2="986.0" y2="3162.0" stroke="#000" stroke-width="5.5"/>
<circle cx="964.0" cy="3147.5" r="13.5" fill="#000"/>
<line x1="1002.5" y1="3174.0" x2="1158.5" y2="3174.0" stroke="#000" stroke-width="5.5"/>
<line x1="1002.5" y1="3159.5" x2="1002.5" y2="3188.5" stroke="#000" stroke-width="5.5"/>
<line x1="1158.5" y1="3159.5" x2="1158.5" y2="3188.5" stroke="#000" stroke-width="5.5"/>
<line x1="1081.0" y1="3134.0" x2="1081.0" y2="3214.0" stroke="#000" stroke-width="7.5"/>
<line x1="1066.5" y1="3134.0" x2="1095.5" y2="3134.0" stroke="#000" stroke-width="5.8"/>
<line x1="1066.5" y1="3214.0" x2="1095.5" y2="3214.0" stroke="#000" stroke-width="5.8"/>
<polygon points="1065.5,3174.0 1071.7,3164.7 1081.0,3158.5 1090.3,3164.7 1096.5,3174.0 1090.3,3183.3 1081.0,3189.5 1071.7,3183.3" fill="#000"/>
<line x1="1705.0" y1="3030.0" x2="1841.0" y2="3030.0" stroke="#000" stroke-width="5.5"/>
<line x1="1705.0" y1="3015.5" x2="1705.0" y2="3044.5" stroke="#000" stroke-width="5.5"/>
<line x1="1841.0" y1="3015.5" x2="1841.0" y2="3044.5" stroke="#000" stroke-width="5.5"/>
<line x1="1773.5" y1="3010.0" x2="1773.5" y2="3049.0" stroke="#000" stroke-width="7.5"/>
<line x1="1759.0" y1="3010.0" x2="1788.0" y2="3010.0" stroke="#000" stroke-width="5.8"/>
<line x1="1759.0" y1="3049.0" x2="1788.0" y2="3049.0" stroke="#000" stroke-width="5.8"/>
<circle cx="1773.5" cy="3030.0" r="12.0" fill="#000"/>
<line x1="717.8" y1="2850.0" x2="717.8" y2="2967.0" stroke="#000" stroke-width="7.5"/>
<line x1="703.3" y1="2850.0" x2="732.3" y2="2850.0" stroke="#000" stroke-width="5.8"/>
<line x1="703.3" y1="2967.0" x2="732.3" y2="2967.0" stroke="#000" stroke-width="5.8"/>
<circle cx="717.8" cy="2903.8" r="13.5" fill="#000"/>
<line x1="725.0" y1="3170.4" x2="851.0" y2="3170.4" stroke="#000" stroke-width="5.5"/>
<line x1="725.0" y1="3155.9" x2="725.0" y2="3184.9" stroke="#000" stroke-width="5.5"/>
<line x1="851.0" y1="3155.9" x2="851.0" y2="3184.9" stroke="#000" stroke-width="5.5"/>
<line x1="790.4" y1="3141.0" x2="790.4" y2="3200.0" stroke="#000" stroke-width="7.5"/>
<line x1="775.9" y1="3141.0" x2="804.9" y2="3141.0" stroke="#000" stroke-width="5.8"/>
<line x1="775.9" y1="3200.0" x2="804.9" y2="3200.0" stroke="#000" stroke-width="5.8"/>
<polygon points="774.9,3170.4 781.1,3161.1 790.4,3154.9 799.7,3161.1 805.9,3170.4 799.7,3179.7 790.4,3185.9 781.1,3179.7" fill="#000"/>
<line x1="735.0" y1="3082.8" x2="795.5" y2="3082.8" stroke="#000" stroke-width="5.5"/>
<line x1="735.0" y1="3068.3" x2="735.0" y2="3097.3" stroke="#000" stroke-width="5.5"/>
<line x1="795.5" y1="3068.3" x2="795.5" y2="3097.3" stroke="#000" stroke-width="5.5"/>
<line x1="767.9" y1="3059.0" x2="767.9" y2="3110.0" stroke="#000" stroke-width="7.5"/>
<line x1="753.4" y1="3059.0" x2="782.4" y2="3059.0" stroke="#000" stroke-width="5.8"/>
<line x1="753.4" y1="3110.0" x2="782.4" y2="3110.0" stroke="#000" stroke-width="5.8"/>
<polygon points="752.4,3082.8 758.6,3073.5 767.9,3067.3 777.2,3073.5 783.4,3082.8 777.2,3092.1 767.9,3098.3 758.6,3092.1" fill="#000"/>
<line x1="747.9" y1="3085.0" x2="747.9" y2="3170.0" stroke="#000" stroke-width="7.5"/>
<line x1="733.4" y1="3085.0" x2="762.4" y2="3085.0" stroke="#000" stroke-width="5.8"/>
<line x1="733.4" y1="3170.0" x2="762.4" y2="3170.0" stroke="#000" stroke-width="5.8"/>
<polygon points="732.4,3110.0 738.6,3100.7 747.9,3094.5 757.2,3100.7 763.4,3110.0 757.2,3119.3 747.9,3125.5 738.6,3119.3" fill="#000"/>
<line x1="730.0" y1="3196.7" x2="778.0" y2="3196.7" stroke="#000" stroke-width="5.5"/>
<line x1="730.0" y1="3182.2" x2="730.0" y2="3211.2" stroke="#000" stroke-width="5.5"/>
<line x1="778.0" y1="3182.2" x2="778.0" y2="3211.2" stroke="#000" stroke-width="5.5"/>
<line x1="805.4" y1="2872.0" x2="830.0" y2="2872.0" stroke="#000" stroke-width="6.6"/>
<polygon points="565.1,2560.2 590.1,2565.2 600.2,2563.9 620.2,2563.9 626.4,2627.8 640.2,2640.3 660.2,2635.3 675.3,2650.3 665.2,2667.8 672.8,2685.4 674.0,2700.4 665.2,2720.4 657.7,2742.9 665.2,2755.5 675.3,2775.5 680.3,2793.0 690.3,2805.5 697.8,2795.5 707.8,2788.0 722.8,2803.0 715.3,2820.6 705.3,2845.6 700.3,2870.1 537.6,2870.1 536.3,2810.5 536.3,2763.0 555.1,2755.5 555.1,2595.2" fill="#000"/>
<rect x="610.2" y="2518.9" width="26.3" height="6.3" fill="#000"/>
<rect x="618.9" y="2525.1" width="7.5" height="102.6" fill="#000"/>
<rect x="640.2" y="2560.2" width="28.8" height="7.5" fill="#000"/>
<rect x="646.5" y="2575.2" width="28.8" height="7.5" fill="#000"/>
<rect x="651.5" y="2567.7" width="12.5" height="72.6" fill="#000"/>
<rect x="567.6" y="2497.6" width="22.5" height="6.3" fill="#000"/>
<rect x="553.8" y="2512.6" width="11.3" height="6.3" fill="#000"/>
<rect x="582.6" y="2520.1" width="15.0" height="6.3" fill="#000"/>
<rect x="523.8" y="2692.9" width="7.5" height="23.8" fill="#000"/>
<rect x="531.3" y="2701.6" width="23.8" height="6.3" fill="#000"/>
<rect x="685.3" y="2712.9" width="33.8" height="6.3" fill="#000"/>
<rect x="701.5" y="2719.2" width="8.8" height="76.4" fill="#000"/>
<rect x="687.8" y="2719.2" width="7.5" height="21.3" fill="#000"/>
<rect x="665.2" y="2721.7" width="25.0" height="7.5" fill="#000"/>
<rect x="530.1" y="2858.1" width="10.0" height="7.5" fill="#000"/>
<rect x="586.4" y="2570.2" width="10.0" height="20.0" fill="#000"/>
<line x1="660.2" y1="2650.3" x2="712.8" y2="2650.3" stroke="#000" stroke-width="5.5"/>
<line x1="712.8" y1="2635.8" x2="712.8" y2="2664.8" stroke="#000" stroke-width="5.5"/>
<polygon points="642.2,2650.3 649.4,2639.5 660.2,2632.3 671.0,2639.5 678.2,2650.3 671.0,2661.1 660.2,2668.3 649.4,2661.1" fill="#000"/>
<circle cx="697.8" cy="2685.4" r="13.5" fill="#000"/>
<line x1="665.2" y1="2691.6" x2="737.8" y2="2691.6" stroke="#000" stroke-width="6.6"/>
<line x1="707.8" y1="2803.0" x2="730.8" y2="2803.0" stroke="#000" stroke-width="5.5"/>
<line x1="730.8" y1="2788.5" x2="730.8" y2="2817.5" stroke="#000" stroke-width="5.5"/>
<polygon points="690.8,2803.0 697.6,2792.8 707.8,2786.0 718.0,2792.8 724.8,2803.0 718.0,2813.2 707.8,2820.0 697.6,2813.2" fill="#000"/>
<polygon points="665.2,2850.0 676.5,2875.0 676.5,2925.1 687.8,2930.1 687.8,2957.6 675.3,2967.7 672.8,3025.2 657.7,3025.2 655.2,3040.3 645.2,3057.8 650.2,3075.3 665.2,3070.3 675.3,3050.3 705.3,3050.3 710.3,3075.3 712.8,3100.3 710.3,3125.4 715.3,3150.4 730.3,3162.9 730.3,3210.5 715.3,3225.5 712.8,3230.5 538.8,3230.5 538.8,3175.4 525.0,3169.2 538.8,3160.4 538.8,2850.0" fill="#000"/>
<rect x="530.1" y="2857.5" width="10.0" height="7.5" fill="#000"/>
<rect x="530.1" y="2887.6" width="10.0" height="7.5" fill="#000"/>
<rect x="530.1" y="2915.1" width="17.5" height="7.5" fill="#000"/>
<rect x="536.3" y="3075.3" width="13.8" height="5.0" fill="#000"/>
<rect x="536.3" y="3097.8" width="13.8" height="5.0" fill="#000"/>
<rect x="662.7" y="2977.7" width="25.0" height="5.5" fill="#000"/>
<rect x="660.2" y="3022.7" width="22.5" height="5.5" fill="#000"/>
<rect x="669.0" y="2887.6" width="7.5" height="137.7" fill="#000"/>
<rect x="676.5" y="3039.0" width="26.3" height="6.3" fill="#000"/>
<rect x="686.0" y="3045.3" width="8.0" height="55.1" fill="#000"/>
<rect x="690.3" y="2850.0" width="40.1" height="15.0" fill="#000"/>
<rect x="710.3" y="2850.0" width="8.8" height="75.1" fill="#000"/>
<rect x="695.3" y="2880.0" width="7.5" height="45.1" fill="#000"/>
<rect x="690.3" y="2922.6" width="20.0" height="6.3" fill="#000"/>
<rect x="655.2" y="3065.3" width="10.0" height="35.0" fill="#000"/>
<rect x="650.2" y="3097.8" width="25.0" height="6.3" fill="#000"/>
<rect x="637.7" y="3090.3" width="15.0" height="10.0" fill="#fff"/>
<rect x="635.2" y="3110.4" width="15.0" height="12.5" fill="#fff"/>
<rect x="677.8" y="3122.9" width="10.0" height="10.0" fill="#fff"/>
<rect x="676.5" y="3170.4" width="28.8" height="13.8" fill="#fff"/>
<rect x="665.2" y="3142.9" width="7.5" height="7.5" fill="#fff"/>
<rect x="640.2" y="2950.1" width="10.0" height="12.5" fill="#fff"/>
<rect x="662.7" y="2967.7" width="6.3" height="7.5" fill="#fff"/>
<rect x="662.7" y="2985.2" width="6.3" height="7.5" fill="#fff"/>
<rect x="655.2" y="3055.3" width="7.5" height="7.5" fill="#fff"/>
<rect x="695.3" y="3082.8" width="7.5" height="7.5" fill="#fff"/>
<rect x="697.8" y="3195.5" width="10.0" height="10.0" fill="#fff"/>
<circle cx="620.2" cy="3037.8" r="3.0" fill="#fff"/>
<ellipse cx="659.0" cy="2902.6" rx="9.5" ry="8.0" fill="#fff"/>
<ellipse cx="665.2" cy="2895.1" rx="6.0" ry="5.0" fill="#fff"/>
<ellipse cx="638.7" cy="2933.1" rx="10.0" ry="7.5" fill="#fff"/>
<ellipse cx="679.5" cy="2860.0" rx="8.0" ry="10.0" fill="#fff"/>
<rect x="660.2" y="2742.4" width="16.3" height="5.0" fill="#000"/>
<rect x="662.7" y="2755.5" width="11.3" height="4.5" fill="#000"/>
<rect x="666.5" y="2770.0" width="12.5" height="4.5" fill="#000"/>
<rect x="672.8" y="2783.0" width="10.0" height="4.0" fill="#000"/>
<rect x="665.2" y="2727.4" width="10.0" height="5.0" fill="#000"/>
<circle cx="546" cy="2862" r="13" fill="#000"/>
<circle cx="546" cy="2884" r="13" fill="#000"/>
<circle cx="546" cy="2912" r="13" fill="#000"/>
<circle cx="546" cy="2950" r="13" fill="#000"/>
<circle cx="546" cy="2990" r="13" fill="#000"/>
<circle cx="546" cy="3022" r="13" fill="#000"/>
<circle cx="546" cy="3050" r="13" fill="#000"/>
<circle cx="546" cy="3078" r="13" fill="#000"/>
<circle cx="546" cy="3118" r="13" fill="#000"/>
<circle cx="546" cy="3150" r="13" fill="#000"/>
<circle cx="546" cy="3190" r="13" fill="#000"/>
<circle cx="546" cy="3214" r="13" fill="#000"/>
<circle cx="545" cy="2790" r="11" fill="#000"/>
<circle cx="545" cy="2815" r="11" fill="#000"/>
<circle cx="545" cy="2840" r="11" fill="#000"/>
<g filter="url(#bc)">
<polygon points="565.1,2498.0 579.1,2499.8 584.1,2516.0 585.9,2533.9 584.5,2555.5 580.0,2573.5 571.9,2588.8 548.2,2586.1 545.3,2566.3 553.9,2551.9 560.8,2533.9 563.3,2516.0" fill="#ff0000"/>
<circle cx="590.6" cy="2543.8" r="9.0" fill="#000"/>
<rect x="584.5" y="2551.9" width="10.8" height="12.6" fill="#000"/>
<rect x="598.2" y="2569.2" width="9.3" height="23.2" fill="#f4fff4"/>
<rect x="612.9" y="2569.2" width="5.4" height="23.2" fill="#f4fff4"/>
<ellipse cx="638.5" cy="2665.2" rx="5.4" ry="3.2" fill="#fff"/>
<line x1="566.9" y1="2460.1" x2="566.9" y2="2505.1" stroke="#f03030" stroke-width="5"/>
<line x1="552.6" y1="2460.6" x2="578.9" y2="2460.6" stroke="#f03030" stroke-width="6"/>
<circle cx="588.9" cy="2612.8" r="11.3" fill="#00ff00"/>
<circle cx="570.1" cy="2610.3" r="13.8" fill="#ff0000"/>
<polygon points="562.6,2617.8 577.6,2617.8 572.6,2630.3 565.1,2630.3" fill="#ff0000"/>
<polygon points="533.8,2605.3 543.8,2595.2 557.6,2595.2 558.8,2615.3 565.1,2632.8 575.1,2640.3 578.9,2655.3 572.6,2670.3 590.1,2685.4 590.1,2700.4 582.6,2715.4 583.9,2727.9 575.1,2748.0 565.1,2758.0 547.6,2758.0 532.6,2750.5 526.3,2735.4 532.6,2715.4 535.1,2695.4 540.1,2670.3 543.8,2645.3 542.6,2620.3 540.1,2610.3" fill="#00ff00"/>
<circle cx="540.1" cy="2781.7" r="14.5" fill="#00ff00"/>
<circle cx="595.1" cy="2652.8" r="4.5" fill="#00ff00"/>
<rect x="527.6" y="2823.6" width="15.0" height="9.5" fill="#00ff00"/>
<polygon points="556.3,2692.9 565.1,2695.4 565.1,2705.4 557.6,2702.9" fill="#000"/>
<rect x="567.6" y="2497.6" width="22.5" height="6.3" fill="#000"/>
<rect x="553.8" y="2513.1" width="10.0" height="5.8" fill="#000"/>
<rect x="582.6" y="2520.6" width="15.0" height="5.8" fill="#000"/>
<circle cx="590.1" cy="3101.6" r="15.0" fill="#0000ff"/>
<ellipse cx="558.8" cy="3238.0" rx="15.5" ry="27.0" fill="#0000ff"/>
<circle cx="602.7" cy="3200.5" r="20.5" fill="#0000ff"/>
<circle cx="595.1" cy="3230.5" r="18.0" fill="#0000ff"/>
<circle cx="615.2" cy="3220.5" r="11.3" fill="#0000ff"/>
<rect x="582.6" y="3250.1" width="25.0" height="8.5" fill="#0000ff"/>
<rect x="588.9" y="3240.5" width="12.5" height="10.0" fill="#0000ff"/>
<circle cx="650.2" cy="3191.7" r="16.5" fill="#0000ff"/>
<circle cx="643.2" cy="3214.3" r="15.0" fill="#0000ff"/>
<circle cx="665.2" cy="3208.0" r="10.0" fill="#0000c0"/>
<rect x="625.2" y="3248.0" width="25.0" height="8.0" fill="#0000ff"/>
<rect x="634.7" y="3223.0" width="6.5" height="27.5" fill="#0000ff"/>
<rect x="660.2" y="3222.0" width="53.8" height="5.5" fill="#1010c0"/>
<circle cx="698.3" cy="3191.0" r="8.0" fill="#0000d0"/>
<rect x="696.8" y="3195.5" width="6.0" height="28.8" fill="#1010c0"/>
<rect x="687.8" y="3222.5" width="25.5" height="6.0" fill="#1010c0"/>
</g>
<line x1="804.0" y1="3218.0" x2="852.0" y2="3218.0" stroke="#1010c0" stroke-width="5.5"/>
<line x1="804.0" y1="3203.5" x2="804.0" y2="3232.5" stroke="#1010c0" stroke-width="5.5"/>
<line x1="852.0" y1="3203.5" x2="852.0" y2="3232.5" stroke="#1010c0" stroke-width="5.5"/>
<line x1="828.0" y1="3185.5" x2="828.0" y2="3249.0" stroke="#1010c0" stroke-width="7.5"/>
<line x1="813.5" y1="3185.5" x2="842.5" y2="3185.5" stroke="#1010c0" stroke-width="5.8"/>
<line x1="813.5" y1="3249.0" x2="842.5" y2="3249.0" stroke="#1010c0" stroke-width="5.8"/>
<polygon points="812.5,3218.0 818.7,3208.7 828.0,3202.5 837.3,3208.7 843.5,3218.0 837.3,3227.3 828.0,3233.5 818.7,3227.3" fill="#0000ff"/>
<line x1="1210.3" y1="3214.2" x2="1308.1" y2="3214.2" stroke="#1010c0" stroke-width="5.5"/>
<line x1="1210.3" y1="3199.7" x2="1210.3" y2="3228.7" stroke="#1010c0" stroke-width="5.5"/>
<line x1="1308.1" y1="3199.7" x2="1308.1" y2="3228.7" stroke="#1010c0" stroke-width="5.5"/>
<line x1="1259.7" y1="3183.7" x2="1259.7" y2="3244.2" stroke="#1010c0" stroke-width="7.5"/>
<line x1="1245.2" y1="3183.7" x2="1274.2" y2="3183.7" stroke="#1010c0" stroke-width="5.8"/>
<line x1="1245.2" y1="3244.2" x2="1274.2" y2="3244.2" stroke="#1010c0" stroke-width="5.8"/>
<polygon points="1244.2,3214.2 1250.4,3204.9 1259.7,3198.7 1269.0,3204.9 1275.2,3214.2 1269.0,3223.5 1259.7,3229.7 1250.4,3223.5" fill="#0000ff"/>
</g>
</svg>
</body>
</html>
